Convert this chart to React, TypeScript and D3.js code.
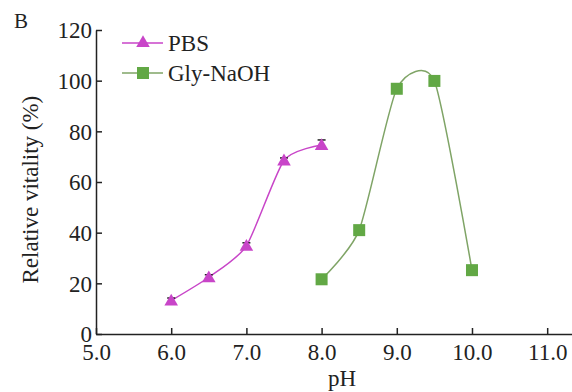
import { useEffect, useRef } from 'react';
import * as d3 from 'd3';

const pbsPh = [6.0, 6.5, 7.0, 7.5, 8.0];
const pbsValues = [13.2, 22.4, 34.8, 68.5, 74.6];
const pbsErrors = [1.0, 1.0, 1.2, 1.0, 2.0];

const glyPh = [8.0, 8.5, 9.0, 9.5, 10.0];
const glyValues = [21.6, 41.0, 96.8, 99.9, 25.2];

const xTicks = [5, 6, 7, 8, 9, 10, 11];
const yTicks = [0, 20, 40, 60, 80, 100, 120];

const W = 572;
const H = 392;
const FONT = '"Liberation Serif", "Times New Roman", serif';
const FS = '23px';
const PINK = '#c845c8';
const GREEN = '#62a845';
const GREEN_LINE = '#7fa466';

export default function App() {
  const svgRef = useRef<SVGSVGElement>(null);

  useEffect(() => {
    if (!svgRef.current) return;
    const svg = d3.select(svgRef.current);
    svg.selectAll('*').remove();

    const x = d3.scaleLinear().domain([5, 11.33]).range([96, 572]);
    const y = d3.scaleLinear().domain([0, 120]).range([334, 30]);

    // axes
    const xAxis = svg.append('g').attr('transform', `translate(0, ${y(0)})`)
      .call(d3.axisBottom(x).tickValues(xTicks).tickSizeInner(-6).tickSizeOuter(0).tickPadding(10)
        .tickFormat(d => d3.format('.1f')(d as number)));
    const yAxis = svg.append('g').attr('transform', `translate(${x(5)}, 0)`)
      .call(d3.axisLeft(y).tickValues(yTicks).tickSizeInner(-6).tickSizeOuter(0).tickPadding(4));

    [xAxis, yAxis].forEach(a => {
      a.selectAll('path, line').attr('stroke', '#222').attr('stroke-width', 1.5);
      a.selectAll('text').attr('fill', '#222').attr('font-family', FONT).attr('font-size', FS);
    });
    xAxis.selectAll('text').attr('dy', '0.71em');
    yAxis.selectAll('text').attr('dy', '0.34em');

    // titles
    svg.append('text').attr('x', 14).attr('y', 28).attr('font-family', FONT)
      .attr('font-size', '21px').attr('fill', '#222').text('B');
    svg.append('text')
      .attr('transform', `translate(38, ${y(57)}) rotate(-90)`)
      .attr('text-anchor', 'middle').attr('font-family', FONT)
      .attr('font-size', FS).attr('fill', '#222').text('Relative vitality (%)');
    svg.append('text').attr('x', 342).attr('y', 386).attr('text-anchor', 'middle')
      .attr('font-family', FONT).attr('font-size', FS).attr('fill', '#222').text('pH');

    const line = d3.line<[number, number]>()
      .x(d => x(d[0])).y(d => y(d[1])).curve(d3.curveCardinal.tension(0.35));

    // PBS
    const pbs = pbsPh.map((p, i) => [p, pbsValues[i]] as [number, number]);
    svg.append('path').attr('d', line(pbs) || '').attr('fill', 'none')
      .attr('stroke', PINK).attr('stroke-width', 1.5);
    pbs.forEach((d, i) => {
      const cx = x(d[0]);
      const top = y(d[1] + pbsErrors[i]);
      svg.append('line').attr('x1', cx).attr('x2', cx).attr('y1', top).attr('y2', y(d[1]))
        .attr('stroke', '#222').attr('stroke-width', 1);
      svg.append('line').attr('x1', cx - 4).attr('x2', cx + 4).attr('y1', top).attr('y2', top)
        .attr('stroke', '#222').attr('stroke-width', 1.5);
    });
    const tri = d3.symbol().type(d3.symbolTriangle).size(80);
    pbs.forEach(d => {
      svg.append('path').attr('d', tri() || '')
        .attr('transform', `translate(${x(d[0])}, ${y(d[1]) + 1})`).attr('fill', PINK);
    });

    // Gly-NaOH
    const gly = glyPh.map((p, i) => [p, glyValues[i]] as [number, number]);
    svg.append('path').attr('d', line(gly) || '').attr('fill', 'none')
      .attr('stroke', GREEN_LINE).attr('stroke-width', 1.5);
    gly.forEach(d => {
      svg.append('rect').attr('x', x(d[0]) - 6).attr('y', y(d[1]) - 6)
        .attr('width', 12).attr('height', 12).attr('fill', GREEN);
    });

    // legend
    const lg = svg.append('g');
    lg.append('line').attr('x1', 122).attr('x2', 163).attr('y1', 43).attr('y2', 43)
      .attr('stroke', PINK).attr('stroke-width', 1.5);
    lg.append('path').attr('d', tri() || '').attr('transform', 'translate(143, 43)').attr('fill', PINK);
    lg.append('text').attr('x', 168).attr('y', 51).attr('font-family', FONT)
      .attr('font-size', FS).attr('fill', '#222').text('PBS');
    lg.append('line').attr('x1', 122).attr('x2', 163).attr('y1', 73).attr('y2', 73)
      .attr('stroke', GREEN_LINE).attr('stroke-width', 1.5);
    lg.append('rect').attr('x', 137).attr('y', 67).attr('width', 12).attr('height', 12).attr('fill', GREEN);
    lg.append('text').attr('x', 168).attr('y', 81).attr('font-family', FONT)
      .attr('font-size', FS).attr('fill', '#222').text('Gly-NaOH');
  }, []);

  return (
    <svg ref={svgRef} width={W} height={H}
      style={{ position: 'absolute', left: 0, top: 0, background: '#fff' }} />
  );
}
